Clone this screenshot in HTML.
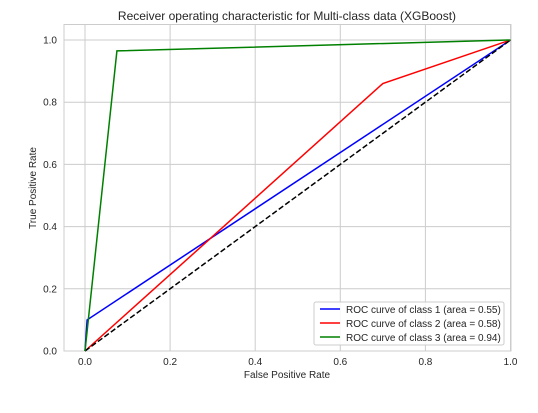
<!DOCTYPE html>
<html><head><meta charset="utf-8"><style>
body{margin:0;background:#fff;font-family:"Liberation Sans",sans-serif;}
svg text{font-family:"Liberation Sans",sans-serif;fill:#262626;}
</style></head><body>
<svg id="chart" width="538" height="408" xmlns="http://www.w3.org/2000/svg">
<rect width="538" height="408" fill="#fff"/>
<g id="grid"></g>
<rect x="64" y="24.5" width="447" height="326.5" fill="none" stroke="#cccccc" stroke-width="1"/>
<g id="series"></g>
<text x="287" y="20" font-size="12" text-anchor="middle">Receiver operating characteristic for Multi-class data (XGBoost)</text>
<text x="287" y="378" font-size="10" text-anchor="middle">False Positive Rate</text>
<text x="36" y="188" font-size="10" text-anchor="middle" transform="rotate(-90 36 188)">True Positive Rate</text>
<g>
<rect x="314" y="302" width="190" height="43" rx="2" fill="#fff" fill-opacity="0.85" stroke="#cccccc"/>
<line x1="320" y1="309" x2="340" y2="309" stroke="#0000ff" stroke-width="1.5"/>
<text x="346" y="313" font-size="10">ROC curve of class 1 (area = 0.55)</text>
<line x1="320" y1="323" x2="340" y2="323" stroke="#ff0000" stroke-width="1.5"/>
<text x="346" y="327" font-size="10">ROC curve of class 2 (area = 0.58)</text>
<line x1="320" y1="337" x2="340" y2="337" stroke="#008000" stroke-width="1.5"/>
<text x="346" y="341" font-size="10">ROC curve of class 3 (area = 0.94)</text>
</g>
</svg>
<script>
const xTicks=[0.0,0.2,0.4,0.6,0.8,1.0];
const yTicks=[0.0,0.2,0.4,0.6,0.8,1.0];
const class1X=[0,0.005,1];
const class1Y=[0,0.1,1];
const class2X=[0,0.7,1];
const class2Y=[0,0.86,1];
const class3X=[0,0.075,1];
const class3Y=[0,0.965,1];
const chanceX=[0,1];
const chanceY=[0,1];
const NS="http://www.w3.org/2000/svg";
function sx(v){return 85+v*425.5;}
function sy(v){return 351-v*311;}
const grid=document.getElementById('grid');
xTicks.forEach(t=>{
 const l=document.createElementNS(NS,'line');
 l.setAttribute('x1',sx(t));l.setAttribute('x2',sx(t));l.setAttribute('y1',24.5);l.setAttribute('y2',351);
 l.setAttribute('stroke','#cccccc');
 
 
 grid.appendChild(l);
 const tx=document.createElementNS(NS,'text');
 tx.setAttribute('x',sx(t));tx.setAttribute('y',365);tx.setAttribute('font-size','10');tx.setAttribute('text-anchor','middle');
 tx.textContent=t.toFixed(1);
 
 
 grid.appendChild(tx);
});
yTicks.forEach(t=>{
 const l=document.createElementNS(NS,'line');
 l.setAttribute('y1',sy(t));l.setAttribute('y2',sy(t));l.setAttribute('x1',64);l.setAttribute('x2',511);
 l.setAttribute('stroke','#cccccc');
 
 
 grid.appendChild(l);
 const tx=document.createElementNS(NS,'text');
 tx.setAttribute('x',57);tx.setAttribute('y',sy(t)+3.5);tx.setAttribute('font-size','10');tx.setAttribute('text-anchor','end');
 tx.textContent=t.toFixed(1);
 
 
 grid.appendChild(tx);
});
const series=document.getElementById('series');
function draw(xs,ys,color,name,dash){
 const p=document.createElementNS(NS,'polyline');
 p.setAttribute('points',xs.map((x,i)=>sx(x)+','+sy(ys[i])).join(' '));
 p.setAttribute('fill','none');p.setAttribute('stroke',color);p.setAttribute('stroke-width','1.5');
 if(dash)p.setAttribute('stroke-dasharray','5.5,2.5');
 
 
 series.appendChild(p);
}
draw(class1X,class1Y,'#0000ff','roc-line-class-1');
draw(class2X,class2Y,'#ff0000','roc-line-class-2');
draw(chanceX,chanceY,'#000000','chance-line',true);
draw(class3X,class3Y,'#008000','roc-line-class-3');
</script>
</body></html>
